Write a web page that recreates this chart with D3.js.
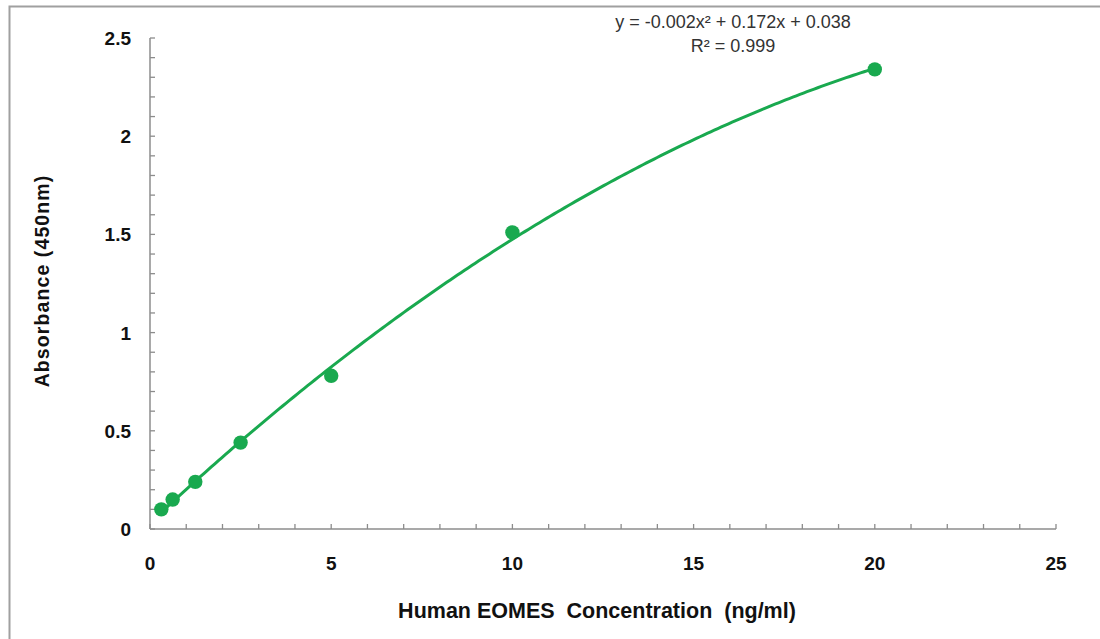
<!DOCTYPE html>
<html>
<head>
<meta charset="utf-8">
<script src="https://cdn.jsdelivr.net/npm/d3@7"></script>
<style>
  html, body { margin: 0; padding: 0; background: #fff; }
  svg { display: block; }
  text { font-family: "Liberation Sans", Arial, sans-serif; }
</style>
</head>
<body>
<svg id="chart" width="1100" height="639"></svg>
<script>
// ---- data ----
const concentrations = [0.3125, 0.625, 1.25, 2.5, 5, 10, 20];
const absorbances = [0.10, 0.15, 0.24, 0.44, 0.78, 1.51, 2.34];
const xTickLabels = [0, 5, 10, 15, 20, 25];
const yTickLabels = [0, 0.5, 1, 1.5, 2, 2.5];
const equationText = "y = -0.002x² + 0.172x + 0.038";
const r2Text = "R² = 0.999";
const xTitle = "Human EOMES  Concentration  (ng/ml)";
const yTitle = "Absorbance (450nm)";

const svg = d3.select("#chart");
const green = "#19a94f";

// outer border (extends past the right and bottom edges)
svg.append("rect").attr("x", 9.5).attr("y", 6.5).attr("width", 1200).attr("height", 800)
  .attr("fill", "none").attr("stroke", "#a0a0a0").attr("stroke-width", 2);

const x = d3.scaleLinear().domain([0, 25]).range([150, 1056]);
const y = d3.scaleLinear().domain([0, 2.5]).range([529, 38]);

// minor ticks (inside)
const gx = svg.append("g");
gx.selectAll("line.minor").data(d3.range(0, 26, 1)).join("line")
  .attr("x1", d => x(d)).attr("x2", d => x(d))
  .attr("y1", y(0)).attr("y2", y(0) - 5)
  .attr("stroke", "#8c8c8c").attr("stroke-width", 1.3);
gx.append("line").attr("x1", x(0)).attr("x2", x(25)).attr("y1", y(0)).attr("y2", y(0))
  .attr("stroke", "#8c8c8c").attr("stroke-width", 1.5);

const gy = svg.append("g");
gy.selectAll("line.minor").data(d3.range(0, 26, 1).map(d => d / 10)).join("line")
  .attr("x1", x(0)).attr("x2", x(0) + 5)
  .attr("y1", d => y(d)).attr("y2", d => y(d))
  .attr("stroke", "#8c8c8c").attr("stroke-width", 1.3);
gy.append("line").attr("x1", x(0)).attr("x2", x(0)).attr("y1", y(0)).attr("y2", y(2.5))
  .attr("stroke", "#8c8c8c").attr("stroke-width", 1.5);

// tick labels
svg.append("g").selectAll("text").data(xTickLabels).join("text")
  .attr("x", d => x(d)).attr("y", 570)
  .attr("text-anchor", "middle").attr("font-weight", "bold").attr("font-size", 19)
  .attr("fill", "#111").text(d => d);

svg.append("g").selectAll("text").data(yTickLabels).join("text")
  .attr("x", 131).attr("y", d => y(d) + 7)
  .attr("text-anchor", "end").attr("font-weight", "bold").attr("font-size", 19)
  .attr("fill", "#111").text(d => d);

// axis titles
svg.append("text").attr("x", 597).attr("y", 618)
  .attr("text-anchor", "middle").attr("font-weight", "bold").attr("font-size", 21.5)
  .attr("fill", "#111").style("white-space", "pre").text(xTitle);

svg.append("text").attr("transform", "translate(49,281) rotate(-90)")
  .attr("text-anchor", "middle").attr("font-weight", "bold").attr("font-size", 19.5)
  .attr("letter-spacing", 1.1).attr("fill", "#111").text(yTitle);

// quadratic least-squares trendline fit from the data
function fitQuad(xs, ys) {
  let s = [0,0,0,0,0], t = [0,0,0];
  xs.forEach((xi, i) => {
    for (let k = 0; k < 5; k++) s[k] += Math.pow(xi, k);
    for (let k = 0; k < 3; k++) t[k] += Math.pow(xi, k) * ys[i];
  });
  const A = [[s[0], s[1], s[2], t[0]], [s[1], s[2], s[3], t[1]], [s[2], s[3], s[4], t[2]]];
  for (let i = 0; i < 3; i++) {
    for (let j = i + 1; j < 3; j++) {
      const f = A[j][i] / A[i][i];
      for (let k = i; k < 4; k++) A[j][k] -= f * A[i][k];
    }
  }
  const c = [0,0,0];
  for (let i = 2; i >= 0; i--) {
    let v = A[i][3];
    for (let k = i + 1; k < 3; k++) v -= A[i][k] * c[k];
    c[i] = v / A[i][i];
  }
  return c;
}
const coef = fitQuad(concentrations, absorbances);
const xmin = d3.min(concentrations), xmax = d3.max(concentrations);
const curve = d3.range(0, 201).map(i => {
  const xv = xmin + (xmax - xmin) * i / 200;
  return [xv, coef[0] + coef[1] * xv + coef[2] * xv * xv];
});
svg.append("path").datum(curve)
  .attr("d", d3.line().x(d => x(d[0])).y(d => y(d[1])))
  .attr("fill", "none").attr("stroke", green).attr("stroke-width", 3);

// points
svg.append("g").selectAll("circle").data(concentrations).join("circle")
  .attr("cx", d => x(d)).attr("cy", (d, i) => y(absorbances[i]))
  .attr("r", 7.2).attr("fill", green);

// equation
svg.append("text").attr("x", 733).attr("y", 28).attr("text-anchor", "middle")
  .attr("font-size", 18).attr("fill", "#333").text(equationText);
svg.append("text").attr("x", 733).attr("y", 52).attr("text-anchor", "middle")
  .attr("font-size", 18).attr("fill", "#333").text(r2Text);
</script>
</body>
</html>
